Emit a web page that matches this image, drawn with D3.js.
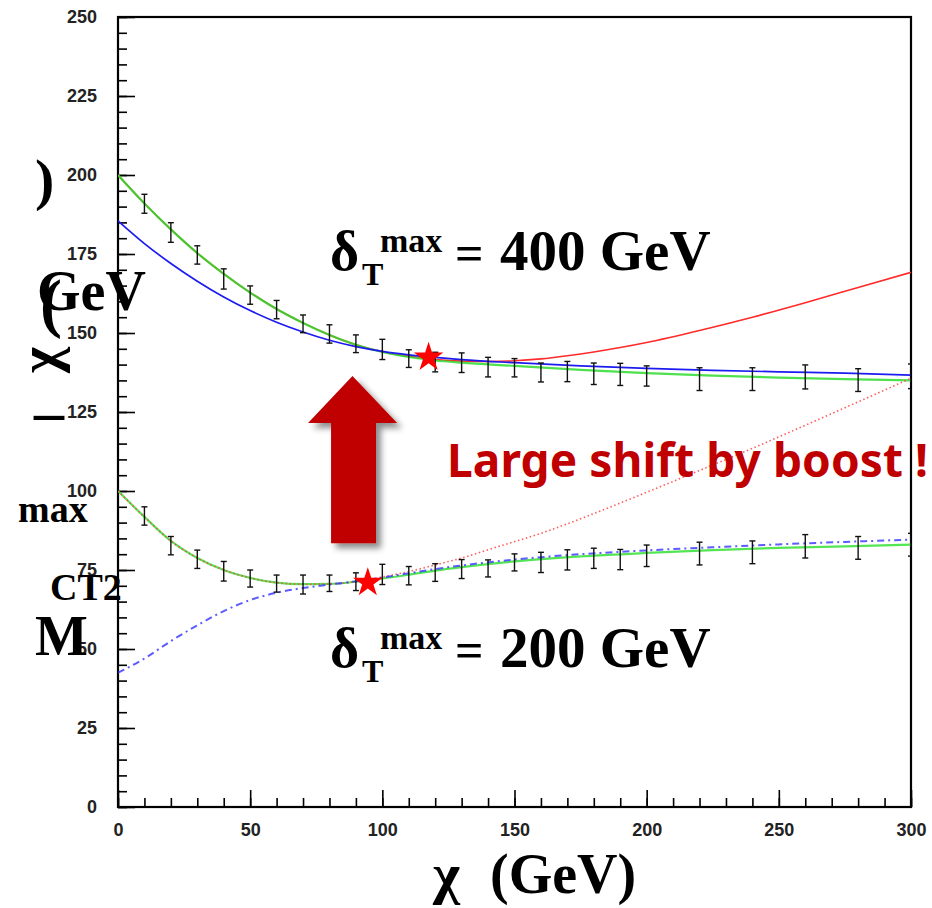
<!DOCTYPE html>
<html>
<head>
<meta charset="utf-8">
<script src="https://cdn.jsdelivr.net/npm/d3@7/dist/d3.min.js"></script>
<style>
body { margin: 0; background: #fff; }
</style>
</head>
<body>
<div id="svg"></div>
<script>

// ---- data ----

// x positions of the measured points (both samples)
var ptX = [10,20,30,40,50,60,70,80,90,100,110,120,130,140,150,160,170,180,190,200,220,240,260,280,300];

// delta_T max = 400 GeV sample
var hiY   = [190.9,181.8,174.7,167.1,162.0,157.4,152.9,149.7,146.6,144.8,141.9,140.8,140.6,139.2,139.0,137.5,137.8,137.1,136.9,136.4,135.4,135.4,136.1,135.1,136.3];
var hiErr = [3.0,3.1,2.9,3.2,2.9,2.9,2.8,2.9,2.8,3.2,2.8,3.1,3.1,3.1,2.9,3.0,3.2,3.4,3.5,3.2,3.6,3.6,3.8,3.6,3.9];

// delta_T max = 200 GeV sample
var loY   = [92.1,82.7,78.4,74.6,72.3,70.7,70.4,70.8,71.3,73.6,73.2,74.2,75.3,75.5,77.4,77.4,78.2,78.7,78.3,79.5,80.2,80.6,82.5,82.0,83.0];
var loErr = [2.9,2.9,2.9,3.1,2.7,2.7,3.0,2.6,2.8,3.2,2.9,2.8,3.0,2.7,2.7,3.2,3.2,3.2,3.2,3.4,3.6,3.6,3.7,3.6,3.6];

// curves: [x, y]
var hiRed = [[0,200],[10,191],[20,182.8],[30,175.3],[40,168.7],[50,162.8],[60,157.6],[70,153.2],[80,149.4],[90,146.3],
	     [100,144.1],[110,142.6],[120,141.6],[130,141.1],[140,141],[150,141.2],[160,141.8],[170,142.8],[180,144],
	     [190,145.4],[200,147],[220,150.8],[240,155],[260,159.6],[280,164.4],[300,169.2]];
var hiGreen = [[0,200],[10,191],[20,182.8],[30,175.3],[40,168.7],[50,162.8],[60,157.6],[70,153.2],[80,149.4],[90,146.3],
	       [100,144],[110,142.4],[120,141.3],[130,140.6],[150,139.6],[175,138.3],[200,137.3],[225,136.5],[250,135.9],
	       [275,135.4],[300,135]];
var hiBlue = [[0,185.5],[10,178.3],[20,172],[30,166.4],[40,161.4],[50,157.1],[60,153.4],[70,150.3],[80,147.7],[90,145.7],
	      [100,144.2],[110,143.1],[120,142.3],[130,141.6],[150,140.6],[175,139.6],[200,138.8],[225,138.2],[250,137.7],
	      [275,137.3],[300,136.7]];

var loGreen = [[0,100],[10,91.8],[20,84.2],[30,78.8],[40,75],[50,72.5],[60,71],[70,70.5],[80,70.6],[90,71.3],
	       [100,72.3],[110,73.5],[120,74.8],[130,75.9],[150,77.7],[175,79.3],[200,80.4],[225,81.3],[250,82],
	       [275,82.5],[300,83]];
var loBlue = [[0,42.5],[10,47],[20,52.5],[30,57.5],[40,62],[50,65.5],[60,67.8],[70,69.3],[80,70.4],[90,71.4],
	      [100,72.6],[120,75.3],[150,78.3],[175,80],[200,81.2],[225,82.2],[250,83.1],[275,83.9],[300,84.6]];
var loRed = [[0,100],[10,91.8],[20,84.2],[30,78.8],[40,75],[50,72.5],[60,71],[70,70.5],[80,70.6],[90,71.3],
	     [100,72.8],[110,74.5],[120,76.6],[130,78.8],[145,82.7],[160,86.6],[175,91.2],[190,96.2],[200,99.6],
	     [220,106.5],[240,113.5],[260,120.8],[280,128.2],[300,135.7]];

// kink positions (stars)
var stars = [[117.5,142.3],[94.5,71]];

// arrow outline, in data units
var arrowShape = [[80.6,83.5],[97.6,83.5],[97.6,121.5],[105.6,121.5],[88.7,136.4],[71.9,121.5],[80.6,121.5]];

var xMajor = d3.range(0, 301, 50);
var xMinor = d3.range(0, 301, 10);
var yMajor = d3.range(0, 251, 25);
var yMinor = d3.range(0, 251, 5);


// ---- drawing ----

var W = 932, H = 908;
var frame = {left: 118, right: 911, top: 17, bot: 807};

var x = d3.scaleLinear().domain([0,300]).range([frame.left, frame.right]);
var y = d3.scaleLinear().domain([0,250]).range([frame.bot, frame.top]);

var svg = d3.select("#svg").append("svg")
    .attr("width", W)
    .attr("height", H)
    .style("font-family", "'Liberation Serif','Times New Roman',serif");

var defs = svg.append("defs");
defs.append("clipPath")
    .attr("id", "plotclip")
    .append("rect")
    .attr("x", frame.left)
    .attr("y", frame.top)
    .attr("width", frame.right - frame.left)
    .attr("height", frame.bot - frame.top);
var shadow = defs.append("filter")
    .attr("id", "shadow")
    .attr("x", "-30%").attr("y", "-30%")
    .attr("width", "160%").attr("height", "160%");
shadow.append("feDropShadow")
    .attr("dx", 5).attr("dy", 5)
    .attr("stdDeviation", 3)
    .attr("flood-color", "#000")
    .attr("flood-opacity", 0.45);

draw_axes();
draw_curves();
draw_points();
draw_stars();
draw_arrow();
draw_labels();


function draw_axes() {
    var ax = svg.append("g").attr("class", "axes");

    // minor ticks
    ax.append("g")
	.attr("transform", "translate(" + frame.left + ",0)")
	.call(d3.axisLeft(y).tickValues(yMinor).tickSize(-9).tickSizeOuter(0).tickFormat(""));
    ax.append("g")
	.attr("transform", "translate(0," + frame.bot + ")")
	.call(d3.axisBottom(x).tickValues(xMinor).tickSize(-9).tickSizeOuter(0).tickFormat(""));

    // major ticks + labels
    ax.append("g")
	.attr("class", "ylab")
	.attr("transform", "translate(" + frame.left + ",0)")
	.call(d3.axisLeft(y).tickValues(yMajor).tickSize(-17).tickSizeOuter(0).tickPadding(21));
    ax.append("g")
	.attr("class", "xlab")
	.attr("transform", "translate(0," + frame.bot + ")")
	.call(d3.axisBottom(x).tickValues(xMajor).tickSize(-17).tickSizeOuter(0).tickPadding(16));

    ax.selectAll(".domain").remove();
    ax.selectAll(".tick line")
	.attr("stroke", "#000")
	.attr("stroke-width", 1.6);
    ax.selectAll(".tick text")
	.attr("fill", "#222")
	.style("font-family", "'Liberation Sans',Arial,sans-serif")
	.style("font-weight", "bold")
	.style("font-size", "18px");

    // frame
    svg.append("rect")
	.attr("x", frame.left)
	.attr("y", frame.top)
	.attr("width", frame.right - frame.left)
	.attr("height", frame.bot - frame.top)
	.attr("fill", "none")
	.attr("stroke", "#000")
	.attr("stroke-width", 2.2);
}

function draw_curves() {
    var line = d3.line()
	.x(function(d) { return x(d[0]); })
	.y(function(d) { return y(d[1]); })
	.curve(d3.curveMonotoneX);

    var cg = svg.append("g").attr("clip-path", "url(#plotclip)").attr("fill", "none");

    var curves = [
	{d: hiRed,   c: "#ff2a2a", w: 1.6, dash: null, op: 1},
	{d: hiGreen, c: "#2edc2e", w: 2.2, dash: null, op: 0.85},
	{d: hiBlue,  c: "#1c1cf0", w: 1.7, dash: null, op: 1},
	{d: loGreen, c: "#35e035", w: 2.2, dash: null, op: 0.85},
	{d: loRed,   c: "#ff4a4a", w: 1.6, dash: "1.5,2.6", op: 0.9},
	{d: loBlue,  c: "#3434ff", w: 2.0, dash: "7,4,2,4", op: 0.8}
    ];

    cg.selectAll("path.curve")
	.data(curves)
	.enter().append("path")
	.attr("class", "curve")
	.attr("d", function(c) { return line(c.d); })
	.attr("stroke", function(c) { return c.c; })
	.attr("stroke-width", function(c) { return c.w; })
	.attr("stroke-opacity", function(c) { return c.op; })
	.attr("stroke-dasharray", function(c) { return c.dash; });
}

function draw_points() {
    var pts = [];
    for (var i = 0 ; i < ptX.length ; i++) {
	pts.push({x: ptX[i], v: hiY[i], e: hiErr[i]});
	pts.push({x: ptX[i], v: loY[i], e: loErr[i]});
    }

    var eg = svg.append("g")
	.attr("clip-path", "url(#plotclip)")
	.attr("stroke", "#111")
	.attr("stroke-width", 1.4);

    var bars = eg.selectAll("g.bar")
	.data(pts)
	.enter().append("g")
	.attr("class", "bar");
    bars.append("line")
	.attr("x1", function(d) { return x(d.x); })
	.attr("x2", function(d) { return x(d.x); })
	.attr("y1", function(d) { return y(d.v + d.e); })
	.attr("y2", function(d) { return y(d.v - d.e); });
    [1, -1].forEach(function(s) {
	bars.append("line")
	    .attr("x1", function(d) { return x(d.x) - 3; })
	    .attr("x2", function(d) { return x(d.x) + 3; })
	    .attr("y1", function(d) { return y(d.v + s * d.e); })
	    .attr("y2", function(d) { return y(d.v + s * d.e); });
    });
}

function draw_stars() {
    svg.append("g").selectAll("path")
	.data(stars)
	.enter().append("path")
	.attr("d", d3.symbol(d3.symbolStar, 270))
	.attr("transform", function(d) { return "translate(" + x(d[0]) + "," + y(d[1]) + ")"; })
	.attr("fill", "#ff0000");
}

function draw_arrow() {
    svg.append("path")
	.datum(arrowShape)
	.attr("d", d3.line()
	      .x(function(d) { return x(d[0]); })
	      .y(function(d) { return y(d[1]); }))
	.attr("fill", "#c00000")
	.attr("filter", "url(#shadow)");
}

function delta_label(yb, value) {
    var t = svg.append("text")
	.attr("fill", "#000")
	.style("font-weight", "bold");
    t.append("tspan").attr("x", 330).attr("y", yb).style("font-size", "56px").text("δ");
    t.append("tspan").attr("x", 362).attr("y", yb + 15).style("font-size", "32px").text("T");
    t.append("tspan").attr("x", 380).attr("y", yb - 18).style("font-size", "34px").text("max");
    t.append("tspan").attr("x", 455).attr("y", yb).style("font-size", "50px").text("=");
    t.append("tspan").attr("x", 500).attr("y", yb).style("font-size", "57px").text(value + " GeV");
}

function draw_labels() {
    delta_label(270, "400");
    delta_label(667, "200");

    svg.append("text")
	.attr("x", 447)
	.attr("y", 477)
	.attr("fill", "#c00000")
	.attr("textLength", 481)
	.attr("lengthAdjust", "spacing")
	.style("font-family", "'Noto Sans',sans-serif")
	.style("font-weight", "bold")
	.style("font-size", "46px")
	.text("Large shift by boost !");

    // x title
    var xt = svg.append("text")
	.attr("y", 893)
	.attr("fill", "#000")
	.style("font-weight", "bold")
	.style("font-size", "58px");
    xt.append("tspan").attr("x", 433).text("χ");
    xt.append("tspan").attr("x", 490).style("font-size", "56px").text("(GeV)");

    // y title, as it is scattered in the picture
    var yl = svg.append("g")
	.attr("fill", "#000")
	.style("font-weight", "bold");
    yl.append("text").attr("x", 35).attr("y", 199).style("font-size", "58px").text(")");
    yl.append("text").attr("x", 40).attr("y", 325).style("font-size", "66px").text("(");
    yl.append("text").attr("x", 37).attr("y", 310).style("font-size", "56px").text("GeV");
    yl.append("text")
	.attr("transform", "translate(44,360) rotate(-90)")
	.attr("text-anchor", "middle")
	.attr("dy", "0.25em")
	.style("font-size", "56px")
	.text("χ");
    yl.append("text").attr("x", 34).attr("y", 412).style("font-size", "60px").text("_");
    yl.append("text").attr("x", 18).attr("y", 522).style("font-size", "38px").text("max");
    yl.append("text").attr("x", 50).attr("y", 600).style("font-size", "38px").text("CT2");
    yl.append("text").attr("x", 35).attr("y", 655).style("font-size", "56px").text("M");
}

</script>
</body>
</html>
